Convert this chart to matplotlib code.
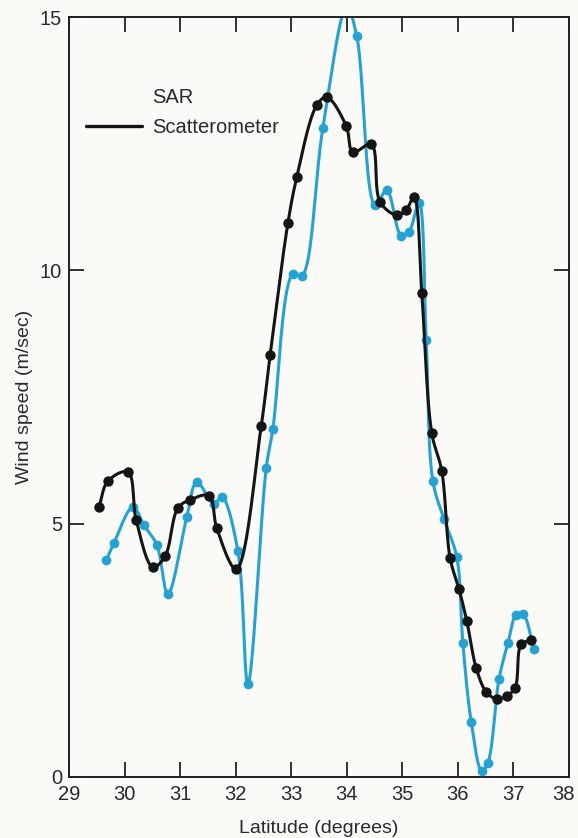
import matplotlib
matplotlib.use("Agg")
import matplotlib.pyplot as plt
import matplotlib.transforms as mtransforms
import numpy as np

# SAR wind speed (m/sec) vs latitude (degrees)
sar_lat = [29.67, 29.81, 30.15, 30.35, 30.58, 30.78, 31.12, 31.30, 31.61, 31.75,
           32.04, 32.22, 32.55, 32.67, 33.03, 33.19, 33.57, 34.00, 34.18, 34.51,
           34.72, 34.98, 35.12, 35.30, 35.43, 35.55, 35.75, 35.98, 36.09, 36.24,
           36.43, 36.54, 36.74, 36.90, 37.05, 37.17, 37.37]
sar_wind = [4.28, 4.62, 5.33, 4.97, 4.58, 3.61, 5.13, 5.82, 5.39, 5.53,
            4.46, 1.84, 6.10, 6.87, 9.93, 9.89, 12.81, 15.2, 14.62, 11.29,
            11.58, 10.68, 10.76, 11.33, 8.62, 5.84, 5.09, 4.34, 2.64, 1.09,
            0.12, 0.28, 1.93, 2.64, 3.20, 3.22, 2.53]

# Scatterometer wind speed
sct_lat = [29.54, 29.70, 30.06, 30.21, 30.51, 30.73, 30.96, 31.18, 31.52, 31.66,
           32.01, 32.46, 32.62, 32.94, 33.10, 33.46, 33.64, 33.99, 34.11, 34.44,
           34.60, 34.90, 35.07, 35.21, 35.35, 35.53, 35.71, 35.86, 36.02, 36.16,
           36.33, 36.51, 36.70, 36.88, 37.03, 37.14, 37.32]
sct_wind = [5.33, 5.84, 6.02, 5.07, 4.14, 4.36, 5.31, 5.47, 5.55, 4.91,
            4.10, 6.93, 8.33, 10.93, 11.84, 13.26, 13.42, 12.85, 12.33, 12.49,
            11.35, 11.09, 11.19, 11.45, 9.55, 6.79, 6.04, 4.32, 3.71, 3.08,
            2.15, 1.68, 1.54, 1.60, 1.76, 2.62, 2.70]

x_ticks = [29, 30, 31, 32, 33, 34, 35, 36, 37, 38]
y_ticks = [0, 5, 10, 15]

CYAN = "#22a3d6"
INK = "#151515"
TXT = "#2a2a2a"
PAPER = "#fbfaf7"


def smooth(x, y, n=24, sx=1.1):
    # centripetal Catmull-Rom through the points, for a hand-drawn look
    P = np.column_stack([np.asarray(x) * sx, np.asarray(y)])
    P = np.vstack([2 * P[0] - P[1], P, 2 * P[-1] - P[-2]])
    out = []
    for i in range(1, len(P) - 2):
        p0, p1, p2, p3 = P[i - 1], P[i], P[i + 1], P[i + 2]
        t0 = 0.0
        t1 = t0 + np.linalg.norm(p1 - p0) ** 0.5 + 1e-9
        t2 = t1 + np.linalg.norm(p2 - p1) ** 0.5 + 1e-9
        t3 = t2 + np.linalg.norm(p3 - p2) ** 0.5 + 1e-9
        t = np.linspace(t1, t2, n)[:, None]
        a1 = (t1 - t) / (t1 - t0) * p0 + (t - t0) / (t1 - t0) * p1
        a2 = (t2 - t) / (t2 - t1) * p1 + (t - t1) / (t2 - t1) * p2
        a3 = (t3 - t) / (t3 - t2) * p2 + (t - t2) / (t3 - t2) * p3
        b1 = (t2 - t) / (t2 - t0) * a1 + (t - t0) / (t2 - t0) * a2
        b2 = (t3 - t) / (t3 - t1) * a2 + (t - t1) / (t3 - t1) * a3
        c = (t2 - t) / (t2 - t1) * b1 + (t - t1) / (t2 - t1) * b2
        out.append(c)
    c = np.vstack(out)
    return c[:, 0] / sx, c[:, 1]


plt.rcParams["font.family"] = ["Liberation Sans", "DejaVu Sans"]

fig = plt.figure(figsize=(5.78, 8.38), dpi=100, facecolor=PAPER)
ax = fig.add_axes([0.1194, 0.0728, 0.865, 0.9069], facecolor=PAPER)

# SAR
sx_, sy_ = smooth(sar_lat, sar_wind)
ax.plot(sx_, sy_, color=CYAN, lw=2.2, solid_capstyle="round", zorder=2)
ax.plot(sar_lat, sar_wind, "o", color=CYAN, ms=7, mec="none", zorder=3)

# Scatterometer
bx_, by_ = smooth(sct_lat, sct_wind)
ax.plot(bx_, by_, color=INK, lw=2.2, solid_capstyle="round", zorder=4)
ax.plot(sct_lat, sct_wind, "o", color=INK, ms=7.5, mec="none", zorder=5)

ax.set_xlim(29, 38)
ax.set_ylim(0, 15)
ax.set_xticks(x_ticks)
ax.set_yticks(y_ticks)
ax.tick_params(direction="in", length=10.5, width=1.3, color="#222222",
               labelsize=14.5, labelcolor=TXT, top=True, right=True)
ax.tick_params(axis="x", pad=6)
ax.tick_params(axis="y", pad=5)
for s in ax.spines.values():
    s.set_linewidth(1.4)
    s.set_color("#222222")

# keep the last latitude label inside the page
last = ax.get_xticklabels()[-1]
last.set_transform(last.get_transform()
                   + mtransforms.ScaledTranslation(-4 / 72, 0, fig.dpi_scale_trans))

ax.set_xlabel("Latitude (degrees)", fontsize=14, color=TXT, labelpad=11)
ax.set_ylabel("Wind speed (m/sec)", fontsize=14, color=TXT, labelpad=5)

# key
ax.text(0.166, 0.894, "SAR", transform=ax.transAxes, fontsize=14.5,
        color=TXT, va="center", ha="left")
ax.text(0.166, 0.854, "Scatterometer", transform=ax.transAxes, fontsize=14.5,
        color=TXT, va="center", ha="left")
ax.plot([0.034, 0.146], [0.857, 0.857], transform=ax.transAxes,
        color=INK, lw=2.4, solid_capstyle="round")

fig.savefig("out.png", dpi=100, facecolor=PAPER)
